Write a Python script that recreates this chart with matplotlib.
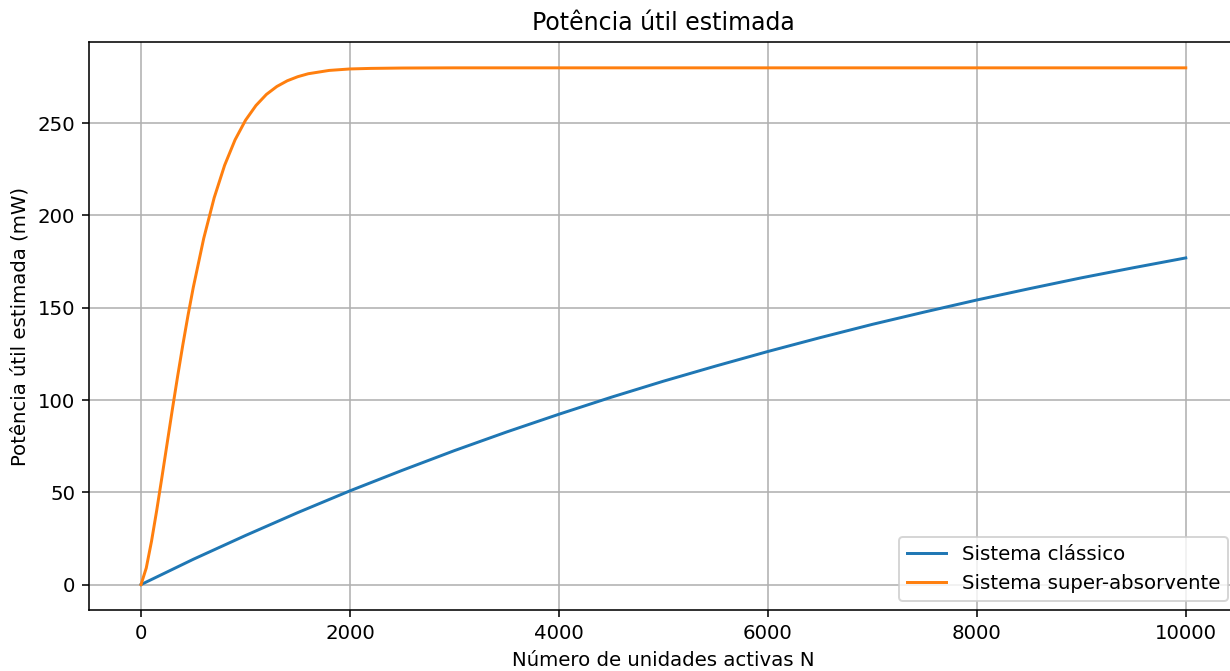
#!/usr/bin/python
import numpy as np
import matplotlib
matplotlib.use('Agg')
from matplotlib import pyplot as plt

# Valores
N_classico	= [0, 500, 1000, 1500, 2000, 2500, 3000, 3500, 4000, 4500, 5000,
			   5500, 6000, 6500, 7000, 7500, 8000, 8500, 9000, 9500, 10000]
P_classico	= [0, 13.7, 26.6, 39.0, 50.8, 61.9, 72.6, 82.7, 92.3, 101.5, 110.2,
			   118.4, 126.3, 133.8, 141.0, 147.7, 154.2, 160.3, 166.2, 171.7, 177.0]

N_super		= [0, 50, 100, 150, 200, 250, 300, 350, 400, 450, 500, 600, 700, 800, 900,
			   1000, 1100, 1200, 1300, 1400, 1500, 1600, 1800, 2000, 2200, 2500, 3000, 10000]
P_super		= [0, 9.0, 23.4, 40.2, 58.2, 76.6, 95.0, 112.8, 129.9, 146.0, 161.0, 187.6, 209.6, 227.2, 241.0,
			   251.6, 259.6, 265.6, 269.9, 273.0, 275.2, 276.8, 278.6, 279.4, 279.7, 279.9, 280, 280]

def main():
	dpi = 142
	fig = plt.figure(figsize=(1230.0/dpi, 671.0/dpi), dpi=dpi)
	ax = fig.add_axes([0.0722, 0.0903, 0.9343, 0.8471])
	ax.plot(N_classico, P_classico, label='Sistema clássico')
	ax.plot(N_super, P_super, label='Sistema super-absorvente')
	ax.set_title('Potência útil estimada')
	ax.set_xlabel('Número de unidades activas N')
	ax.set_ylabel('Potência útil estimada (mW)')
	ax.legend(loc='lower right')
	ax.grid()
	fig.savefig('out.png', dpi=dpi)

if __name__=="__main__":
	main()
